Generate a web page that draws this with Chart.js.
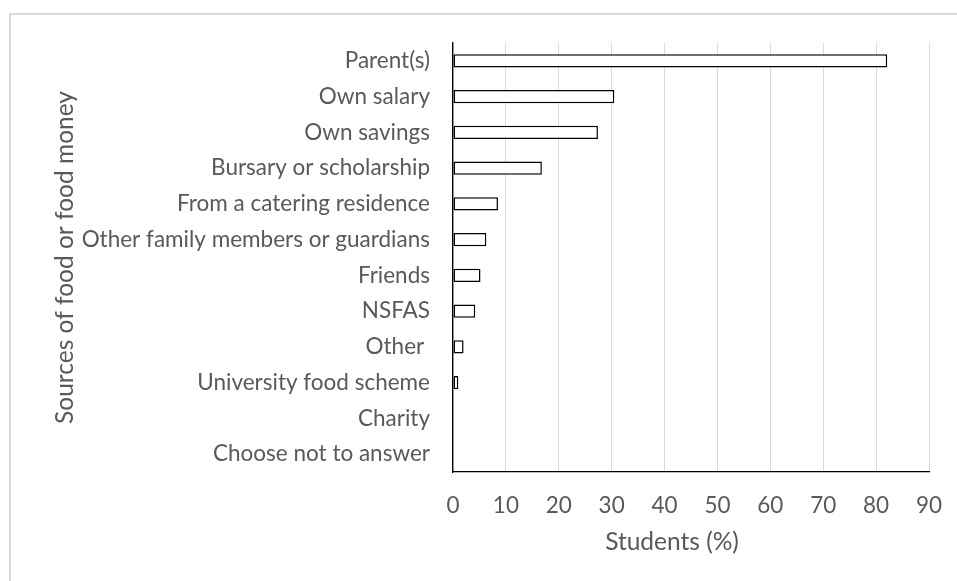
<!DOCTYPE html>
<html>
<head>
<meta charset="utf-8">
<script src="https://cdn.jsdelivr.net/npm/chart.js@4/dist/chart.umd.min.js"></script>
<style>
  html, body { margin: 0; padding: 0; background: #ffffff; }
  #wrap { position: relative; width: 957px; height: 581px; overflow: hidden; }
  #frame { position: absolute; left: 9px; top: 13px; width: 1000px; height: 1000px;
           border: 2px solid #d9d9d9; box-sizing: border-box; }
  #chart { position: absolute; left: 0; top: 0; }
</style>
</head>
<body>
<div id="wrap">
  <div id="frame"></div>
  <canvas id="chart" width="957" height="581"></canvas>
</div>
<script>
// Sources of food or food money, share of students (%)
const categories = [
  'Parent(s)',
  'Own salary',
  'Own savings',
  'Bursary or scholarship',
  'From a catering residence',
  'Other family members or guardians',
  'Friends',
  'NSFAS',
  'Other ',
  'University food scheme',
  'Charity',
  'Choose not to answer'
];
const studentsPct = [82.1, 30.5, 27.4, 16.8, 8.5, 6.3, 5.2, 4.2, 2.0, 1.0, 0, 0];
const xTicks = [0, 10, 20, 30, 40, 50, 60, 70, 80, 90];
const xTitle = 'Students (%)';
const yTitle = 'Sources of food or food money';

const FONT = "Lato, 'Open Sans', sans-serif";
const TEXT = '#595959';
const TICK_PX = 22.5;
const TITLE_PX = 24.5;

// Bottom axis title, centred under the plot block
const xTitlePlugin = {
  id: 'xTitle',
  afterDraw(chart) {
    const ctx = chart.ctx;
    ctx.save();
    ctx.fillStyle = TEXT;
    ctx.font = TITLE_PX + 'px ' + FONT;
    ctx.textAlign = 'center';
    ctx.textBaseline = 'middle';
    ctx.fillText(xTitle, 672, 542);
    ctx.restore();
  }
};

new Chart(document.getElementById('chart'), {
  type: 'bar',
  data: {
    labels: categories,
    datasets: [{
      data: studentsPct,
      backgroundColor: '#ffffff',
      borderColor: '#000000',
      borderWidth: 1.5,
      borderSkipped: false,
      categoryPercentage: 1,
      barPercentage: 0.37
    }]
  },
  options: {
    indexAxis: 'y',
    responsive: false,
    animation: false,
    layout: { padding: { left: 0, right: 28, top: 43, bottom: 0 } },
    plugins: { legend: { display: false }, tooltip: { enabled: false } },
    scales: {
      x: {
        min: 0, max: 90,
        afterBuildTicks(scale) { scale.ticks = xTicks.map(v => ({ value: v })); },
        afterFit(scale) { scale.height = 109; scale.paddingLeft = 0; scale.paddingRight = 0; },
        grid: { color: '#d9d9d9', lineWidth: 1, drawTicks: false },
        border: { display: true, color: '#000000', width: 1.3 },
        ticks: { color: TEXT, font: { family: FONT, size: TICK_PX }, padding: 20, maxRotation: 0 }
      },
      y: {
        afterFit(scale) { scale.width = 453; scale.paddingTop = 0; scale.paddingBottom = 0; },
        grid: { display: false, drawTicks: false },
        border: { display: true, color: '#000000', width: 1.3 },
        ticks: { color: TEXT, font: { family: FONT, size: TICK_PX }, padding: 23, autoSkip: false },
        title: {
          display: true, text: yTitle, color: TEXT,
          font: { family: FONT, size: TITLE_PX },
          padding: { top: 50, bottom: 0 }
        }
      }
    }
  },
  plugins: [xTitlePlugin]
});
</script>
</body>
</html>
